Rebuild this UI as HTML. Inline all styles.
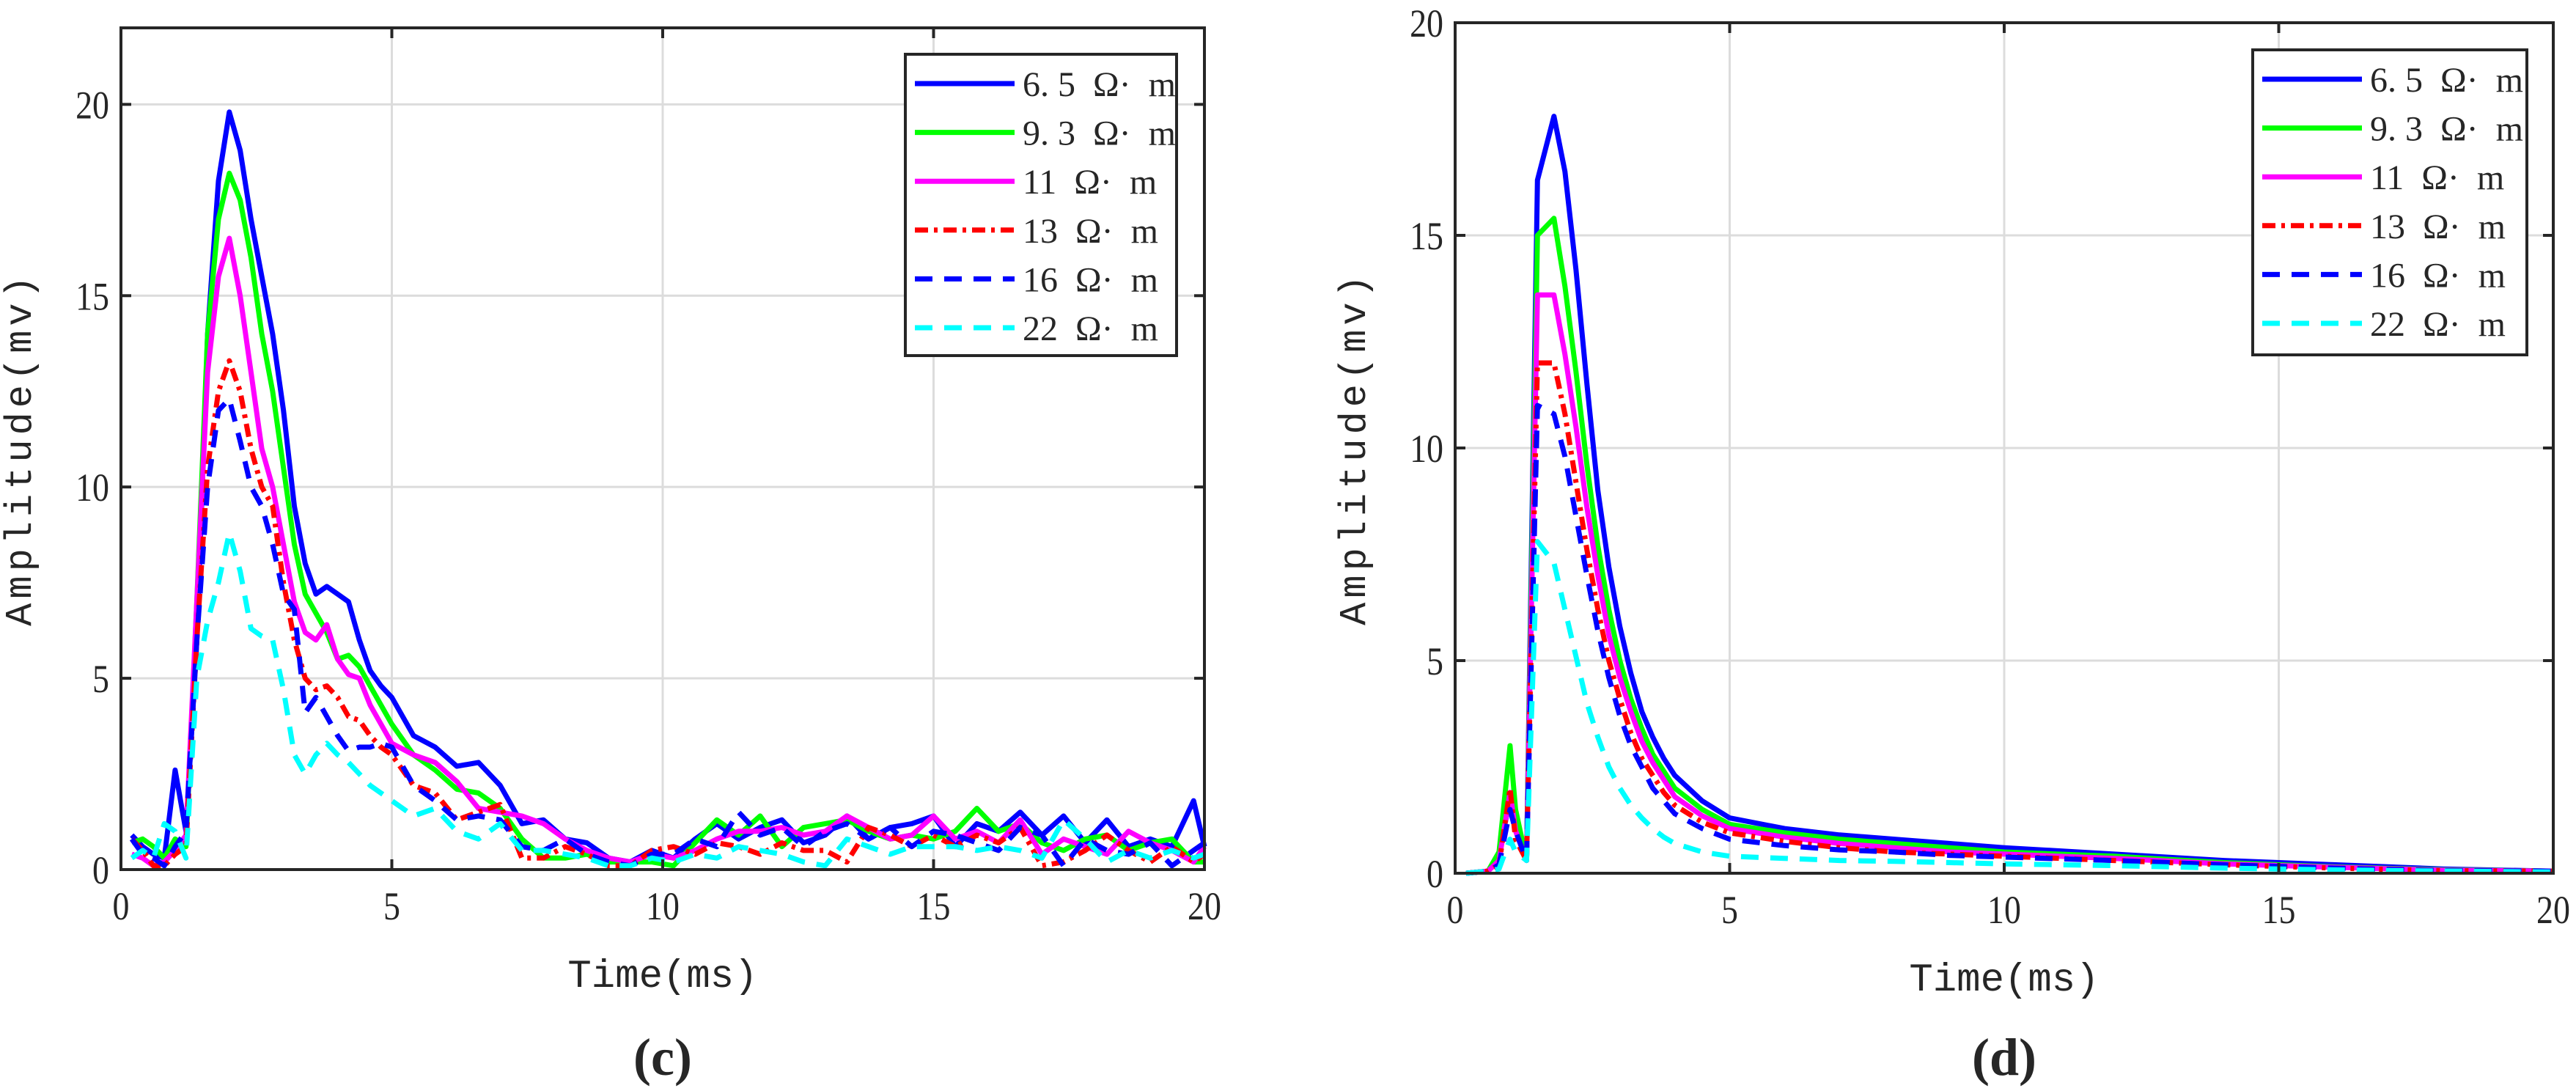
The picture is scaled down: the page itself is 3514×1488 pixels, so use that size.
<!DOCTYPE html>
<html><head><meta charset="utf-8"><style>
html,body{margin:0;padding:0;background:#fff}
svg{display:block}
text{font-family:"Liberation Serif","Noto Serif CJK SC",serif;fill:#262626}
.mono{font-family:"Liberation Mono","Noto Sans CJK SC",monospace}
</style></head><body>
<svg id="fig" width="3514" height="1488" viewBox="0 0 3514 1488" xmlns="http://www.w3.org/2000/svg"></svg>
<script>
// ---------- Data: panel (c) ----------
const timeC = [0.2,0.4,0.6,0.8,1.0,1.2,1.4,1.6,1.8,2.0,2.2,2.4,2.6,2.8,3.0,3.2,3.4,3.6,3.8,4.0,4.2,4.4,4.6,4.8,5.0,5.4,5.8,6.2,6.6,7.0,7.4,7.8,8.2,8.6,9.0,9.4,9.8,10.2,10.6,11.0,11.4,11.8,12.2,12.6,13.0,13.4,13.8,14.2,14.6,15.0,15.4,15.8,16.2,16.6,17.0,17.4,17.8,18.2,18.6,19.0,19.4,19.8,20.0];
const c65 = [0.9,0.6,0.4,0.3,2.6,1.0,6,14,18,19.8,18.8,17,15.5,14,12,9.5,8,7.2,7.4,7.2,7.0,6.0,5.2,4.8,4.5,3.5,3.2,2.7,2.8,2.2,1.2,1.3,0.8,0.7,0.3,0.2,0.5,0.3,0.8,1.2,0.8,1.1,1.3,0.7,0.9,1.4,0.8,1.1,1.2,1.4,0.6,1.2,1.0,1.5,0.9,1.4,0.7,1.3,0.6,0.8,0.6,1.8,0.6];
const c93 = [0.7,0.8,0.6,0.3,0.8,0.6,7,14,17,18.2,17.5,16,14,12.5,10.5,8.5,7.2,6.7,6.2,5.5,5.6,5.3,4.8,4.3,3.8,3.0,2.6,2.1,2.0,1.6,0.8,0.3,0.3,0.4,0.2,0.2,0.2,0.1,0.7,1.3,0.9,1.4,0.6,1.1,1.2,1.3,1.0,0.8,0.9,0.8,1.0,1.6,1.0,1.2,0.7,0.5,0.8,0.9,0.5,0.7,0.8,0.2,0.2];
const c11 = [0.4,0.3,0.1,0.2,0.5,0.9,7,13,15.5,16.5,15,13,11,10,8.5,7,6.2,6.0,6.4,5.5,5.1,5.0,4.3,3.8,3.3,3.0,2.8,2.3,1.6,1.5,1.4,1.2,0.8,0.5,0.3,0.2,0.4,0.3,0.5,0.8,1.0,1.0,1.1,0.9,1.0,1.4,1.1,0.8,0.9,1.4,0.8,1.0,0.7,1.3,0.4,0.8,0.6,0.4,1.0,0.7,0.5,0.2,0.6];
const c13 = [0.8,0.5,0.1,0.1,0.4,0.6,6,10.5,12.5,13.3,12.5,11,10,9.5,7.5,6,5,4.7,4.8,4.5,4.0,3.9,3.5,3.2,3.0,2.2,2.0,1.3,1.5,1.7,0.3,0.3,0.6,0.4,0.1,0.1,0.5,0.6,0.4,0.7,0.6,0.4,0.7,0.5,0.5,0.2,1.1,0.9,0.6,0.9,0.6,0.9,0.7,1.1,0.1,0.2,0.5,0.9,0.5,0.2,0.6,0.2,0.4];
const c16 = [0.8,0.4,0.3,0.1,0.6,1.0,6,10,12,12.3,11.2,10,9.5,8.5,7.2,6.8,4.1,4.5,4.0,3.5,3.1,3.2,3.2,3.3,3.2,2.2,1.8,1.3,1.4,1.3,0.6,0.5,0.8,0.4,0.2,0.1,0.4,0.4,0.8,0.6,1.5,0.9,1.1,0.6,1.0,1.2,0.8,1.1,0.6,1.0,0.9,0.7,0.5,1.1,0.9,0.1,0.8,0.5,0.4,0.7,0.1,0.5,0.7];
const c22 = [0.3,0.5,0.3,1.2,1.0,0.3,5,6.5,7.5,8.8,7.8,6.3,6.1,6.0,4.7,3.0,2.5,3.0,3.3,3.0,2.8,2.5,2.2,2.0,1.8,1.4,1.6,1.0,0.8,1.2,0.5,0.5,0.4,0.3,0.1,0.1,0.3,0.2,0.4,0.3,0.6,0.5,0.4,0.2,0.1,0.8,0.6,0.4,0.6,0.6,0.6,0.5,0.6,0.5,0.3,1.3,0.8,0.2,0.5,0.3,0.5,0.3,0.4];
// ---------- Data: panel (d) ----------
const timeD = [0.2,0.6,0.8,1.0,1.1,1.3,1.5,1.8,2.0,2.2,2.4,2.6,2.8,3.0,3.2,3.4,3.6,3.8,4.0,4.5,5,6,7,8,9,10,12,14,16,18,20];
const d65 = [0,0.05,0.4,1.8,1.0,0.3,16.3,17.8,16.5,14.2,11.5,9.0,7.2,5.8,4.7,3.8,3.2,2.7,2.3,1.7,1.3,1.05,0.9,0.8,0.7,0.6,0.45,0.3,0.2,0.1,0.05];
const d93 = [0,0.05,0.5,3.0,1.5,0.3,15.0,15.4,13.8,11.8,9.6,7.7,6.2,5.0,4.1,3.4,2.8,2.4,2.0,1.5,1.15,0.95,0.8,0.7,0.6,0.5,0.4,0.25,0.15,0.08,0.05];
const d11 = [0,0.05,0.3,1.9,1.0,0.3,13.6,13.6,12.2,10.5,8.6,7.0,5.6,4.6,3.8,3.1,2.6,2.2,1.8,1.35,1.05,0.85,0.7,0.6,0.5,0.45,0.35,0.22,0.14,0.07,0.05];
const d13 = [0,0.05,0.2,2.0,0.8,0.3,12.0,12.0,10.8,9.2,7.6,6.2,5.0,4.1,3.3,2.7,2.3,1.9,1.6,1.2,0.95,0.75,0.6,0.5,0.45,0.4,0.3,0.2,0.12,0.06,0.05];
const d16 = [0,0.05,0.2,1.5,1.0,0.3,11.0,10.8,9.8,8.4,7.0,5.7,4.6,3.7,3.0,2.5,2.0,1.7,1.4,1.05,0.8,0.65,0.55,0.5,0.42,0.38,0.3,0.2,0.12,0.06,0.05];
const d22 = [0,0.05,0.1,0.8,0.5,0.3,7.8,7.3,6.2,5.1,4.0,3.2,2.5,2.0,1.6,1.3,1.05,0.85,0.7,0.5,0.4,0.35,0.3,0.28,0.25,0.22,0.18,0.12,0.08,0.05,0.03];
const legendLabels = ["6. 5  Ω·  m","9. 3  Ω·  m","11  Ω·  m","13  Ω·  m","16  Ω·  m","22  Ω·  m"];
const xTicks = [0,5,10,15,20];
const yTicksC = [0,5,10,15,20];
const yTicksD = [0,5,10,15,20];

const NS="http://www.w3.org/2000/svg";
const svg=document.getElementById('fig');
function mk(tag,attrs,parent){const e=document.createElementNS(NS,tag);for(const k in attrs)e.setAttribute(k,attrs[k]);(parent||svg).appendChild(e);return e;}
const styles=[
 {c:"#0000ff",d:""},{c:"#00ff00",d:""},{c:"#ff00ff",d:""},
 {c:"#ff0000",d:"18,8,5,8"},{c:"#0000ff",d:"24,16"},{c:"#00ffff",d:"24,16"}];

function panel(o){
  const g=mk('g',{});
  
  
  const X=v=>o.L+(v-0)/(20-0)*(o.R-o.L);
  const Y=v=>o.B-(v-0)/(o.ymax-0)*(o.B-o.T);
  xTicks.forEach(t=>{const l=mk('line',{x1:X(t),x2:X(t),y1:o.T,y2:o.B,stroke:"#dcdcdc","stroke-width":3},g);
    });
  o.yTicks.forEach(t=>{const l=mk('line',{x1:o.L,x2:o.R,y1:Y(t),y2:Y(t),stroke:"#dcdcdc","stroke-width":3},g);
    });
  o.series.forEach((s,i)=>{
    const n=Math.min(o.time.length,s.length);
    let d="";for(let k=0;k<n;k++)d+=(k?"L":"M")+X(o.time[k]).toFixed(1)+","+Y(s[k]).toFixed(1);
    const p=mk('path',{d:d,fill:"none",stroke:styles[i].c,"stroke-width":7,"stroke-linejoin":"round","stroke-dasharray":styles[i].d||"none"},g);
    
    
  });
  const box=mk('rect',{x:o.L,y:o.T,width:o.R-o.L,height:o.B-o.T,fill:"none",stroke:"#262626","stroke-width":4},g);
  
  xTicks.forEach(t=>{
    mk('line',{x1:X(t),x2:X(t),y1:o.B,y2:o.B-14,stroke:"#262626","stroke-width":4},g);
    mk('line',{x1:X(t),x2:X(t),y1:o.T,y2:o.T+14,stroke:"#262626","stroke-width":4},g);
    const tx=mk('text',{x:X(t),y:o.B+68,"font-size":54,"text-anchor":"middle",transform:`translate(${X(t)*0.15},0) scale(0.85,1)`},g);tx.textContent=t;
    
  });
  o.yTicks.forEach(t=>{
    mk('line',{x1:o.L,x2:o.L+14,y1:Y(t),y2:Y(t),stroke:"#262626","stroke-width":4},g);
    mk('line',{x1:o.R,x2:o.R-14,y1:Y(t),y2:Y(t),stroke:"#262626","stroke-width":4},g);
    const tx=mk('text',{x:o.L-16,y:Y(t)+19,"font-size":54,"text-anchor":"end",transform:`translate(${(o.L-16)*0.15},0) scale(0.85,1)`},g);tx.textContent=t;
    
  });
  const xl=mk('text',{x:(o.L+o.R)/2,y:o.B+160,"font-size":54,"text-anchor":"middle","class":"mono"},g);
  xl.textContent="Time(ms)";
  const yl=mk('text',{x:0,y:0,"font-size":52,"text-anchor":"middle","class":"mono","letter-spacing":"6",transform:`translate(${o.ylx},${(o.T+o.B)/2}) rotate(-90)`},g);
  yl.textContent="Amplitude(mv)";
  const cap=mk('text',{x:(o.L+o.R)/2,y:1466,"font-size":72,"font-weight":"bold","text-anchor":"middle"},g);
  cap.textContent=o.cap;
  const lg=mk('g',{},g);
  mk('rect',{x:o.lgx,y:o.lgy,width:o.lgw,height:o.lgh,fill:"#fff",stroke:"#262626","stroke-width":4},lg);
  legendLabels.forEach((lab,i)=>{
    const yy=o.lgy+40+i*66.6;
    const ln=mk('line',{x1:o.lgx+13,x2:o.lgx+149,y1:yy,y2:yy,stroke:styles[i].c,"stroke-width":7,"stroke-dasharray":styles[i].d||"none"},lg);
    
    const t=mk('text',{x:o.lgx+160,y:yy+17,"font-size":48},lg);
    t.setAttribute('style','white-space:pre');t.textContent=lab;
    
  });
}
panel({name:'panel-c',L:165,R:1643,T:38,B:1186,ymax:22,yTicks:yTicksC,time:timeC,series:[c65,c93,c11,c13,c16,c22],
  ylx:42,cap:"(c)",lgx:1235,lgy:74,lgw:370,lgh:411});
panel({name:'panel-d',L:1985,R:3483,T:31,B:1191,ymax:20,yTicks:yTicksD,time:timeD,series:[d65,d93,d11,d13,d16,d22],
  ylx:1862,cap:"(d)",lgx:3073,lgy:68,lgw:374,lgh:416});
</script>
</body></html>
